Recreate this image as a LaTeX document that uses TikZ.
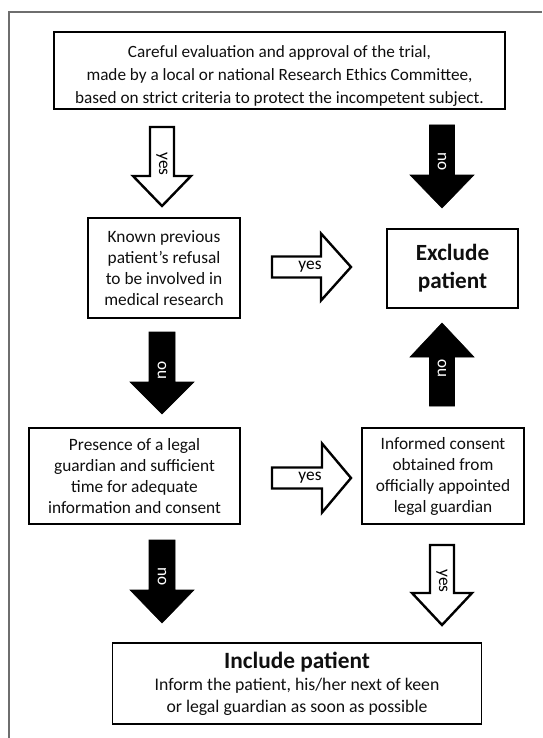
\documentclass[tikz,border=0pt]{standalone}
\usepackage{fontspec}
\setmainfont{Carlito}
\newcommand\vblockarrow[7]{% style, x, y1 (tail), y2 (head base), y3 (tip), shaft half width, head half width
  \draw[#1] ({#2-#6},#3) -- ({#2+#6},#3) -- ({#2+#6},#4) -- ({#2+#7},#4) -- (#2,#5) -- ({#2-#7},#4) -- ({#2-#6},#4) -- cycle;}
\newcommand\hblockarrow[7]{% style, y, x1 (tail), x2 (head base), x3 (tip), shaft half width, head half width
  \draw[#1] (#3,{#2-#6}) -- (#4,{#2-#6}) -- (#4,{#2-#7}) -- (#5,#2) -- (#4,{#2+#7}) -- (#4,{#2+#6}) -- (#3,{#2+#6}) -- cycle;}
\begin{document}
\begin{tikzpicture}[x=0.75pt,y=-0.75pt,
  frame/.style={draw={rgb,255:red,110;green,110;blue,110},line width=1.5pt},
  box/.style={draw=black,line width=0.9pt,align=center,inner sep=0pt,text={rgb,255:red,15;green,15;blue,15},font=\fontsize{13}{15.75}\selectfont},
  plain/.style={align=center,inner sep=0pt,text={rgb,255:red,15;green,15;blue,15}},
  hollow/.style={draw=black,line width=1.8pt,fill=white,line join=miter},
  solid/.style={fill=black,draw=black,line width=0.4pt},
  lab/.style={font=\fontsize{13}{15}\selectfont,inner sep=0pt},
  wlab/.style={lab,text=white}]
\useasboundingbox (0,0) rectangle (542,738);
\draw[frame] (8.5,738) -- (8.5,12) -- (542,12);

% boxes
\node[box,minimum width=451*0.75pt,minimum height=77*0.75pt] (eval) at (279.5,70.5) {};
\node[plain,font=\fontsize{12.9}{17.6}\selectfont] (evaltext) at (279.5,76)
  {Careful evaluation and approval of the trial,\\made by a local or national Research Ethics Committee,\\based on strict criteria to protect the incompetent subject.};
\node[box,minimum width=152*0.75pt,minimum height=100*0.75pt] (refusal) at (164,268)
  {Known previous\\patient’s refusal\\to be involved in\\medical research};
\node[box,minimum width=131*0.75pt,minimum height=79*0.75pt,font=\bfseries\fontsize{17.4}{21}\selectfont] (exclude) at (452.5,268.5)
  {Exclude\\patient};
\node[box,minimum width=211*0.75pt,minimum height=96*0.75pt] (guardian) at (134.5,476)
  {Presence of a legal\\guardian and sufficient\\time for adequate\\information and consent};
\node[box,minimum width=162*0.75pt,minimum height=96*0.75pt] (consent) at (443,476)
  {Informed consent\\obtained from\\officially appointed\\legal guardian};
\node[box,minimum width=369.5*0.75pt,minimum height=81*0.75pt,font=\fontsize{13.3}{16.5}\selectfont] (include) at (297,683.5)
  {{\bfseries\fontsize{17.5}{18}\selectfont Include patient}\\Inform the patient, his/her next of keen\\or legal guardian as soon as possible};

% block arrows
\vblockarrow{hollow}{162}{127}{176}{206}{12}{29}
\vblockarrow{solid}{442}{125}{175}{208}{12.5}{32}
\vblockarrow{solid}{162}{332}{382}{414}{13}{32}
\vblockarrow{solid}{442}{406}{357}{323}{12.5}{32}
\vblockarrow{solid}{162}{540}{590}{623}{13}{32}
\vblockarrow{hollow}{442}{545}{593}{625}{12}{30}
\hblockarrow{hollow}{267}{272}{321}{351}{10.5}{33.5}
\hblockarrow{hollow}{478}{272}{322}{351}{10.5}{34.5}

% labels
\node[lab,rotate=-90] (l1) at (162,164) {yes};
\node[wlab,rotate=-90] (l2) at (442,162) {no};
\node[wlab,rotate=90] (l3) at (162,370) {no};
\node[wlab,rotate=90] (l4) at (442,368) {no};
\node[wlab,rotate=-90] (l5) at (162,577) {no};
\node[lab,rotate=-90] (l6) at (442,581) {yes};
\node[lab] (l7) at (310,267) {yes};
\node[lab] (l8) at (310,478) {yes};
\end{tikzpicture}
\end{document}
